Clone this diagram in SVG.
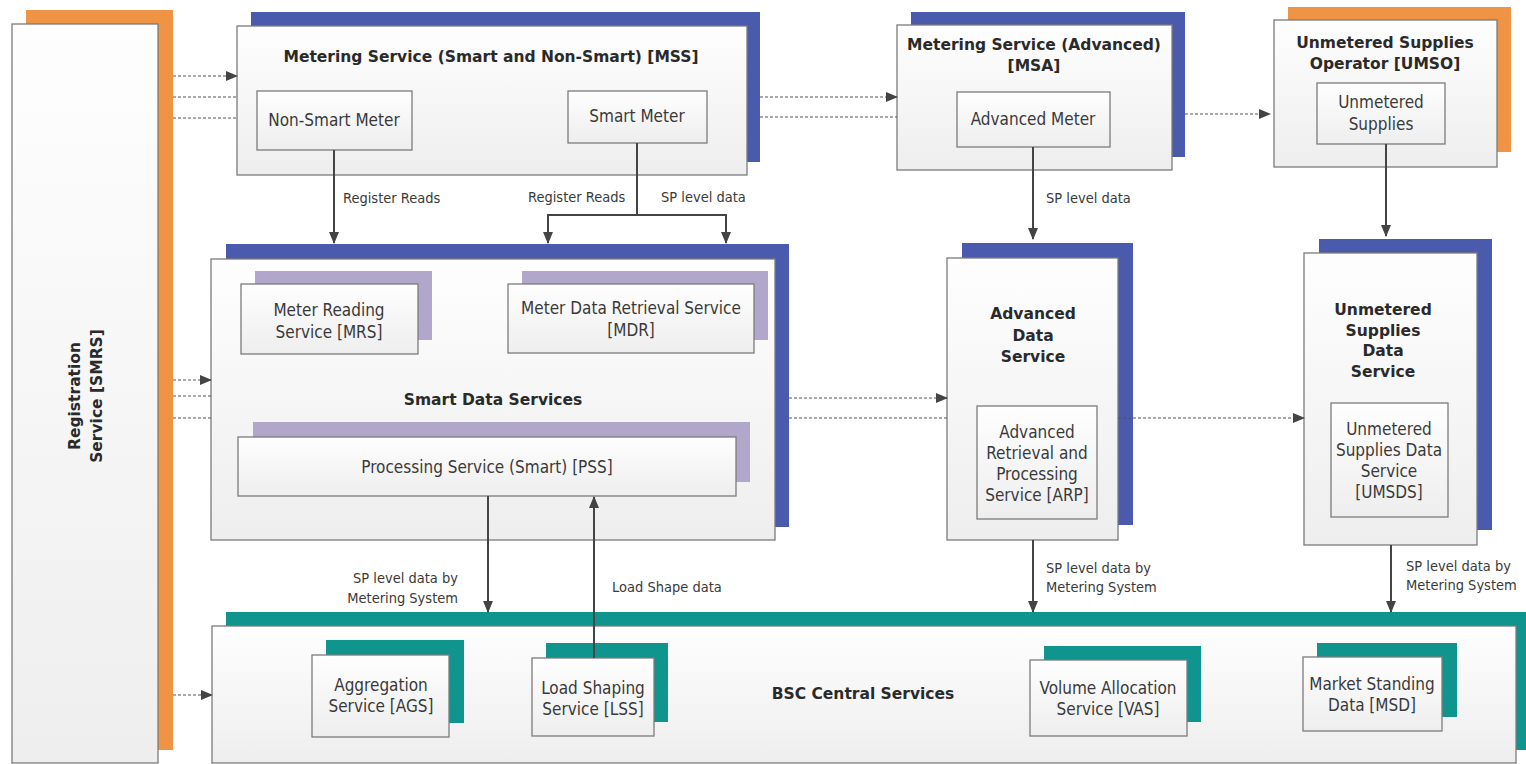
<svg xmlns="http://www.w3.org/2000/svg" width="1526" height="764" viewBox="0 0 1526 764">
<style>
.box{fill:url(#g);stroke:#7b7b7b;stroke-width:1.3}
.or{fill:#EF9345}
.bl{fill:#4A5BAE}
.lv{fill:#B1A7CB}
.tl{fill:#10958E}
.t{font-family:"DejaVu Sans Condensed","DejaVu Sans",sans-serif;font-size:17px;fill:#3a3a3a;text-anchor:middle}
.h{font-family:"DejaVu Sans","Liberation Sans",sans-serif;font-weight:bold;font-size:15.5px;fill:#2a2a2a;text-anchor:middle}
.l{font-family:"DejaVu Sans Condensed","DejaVu Sans",sans-serif;font-size:14.5px;fill:#3a3a3a}
.s{fill:none;stroke:#444;stroke-width:2}
.d{fill:none;stroke:#555;stroke-width:1.2;stroke-dasharray:3 2}
</style>
<defs>
<linearGradient id="g" x1="0" y1="0" x2="0" y2="1">
<stop offset="0" stop-color="#fefefe"/>
<stop offset="1" stop-color="#eeeeee"/>
</linearGradient>
<marker id="a" markerWidth="12" markerHeight="12" refX="11" refY="6" orient="auto" markerUnits="userSpaceOnUse">
<path d="M0,1 L12,6 L0,11 Z" fill="#444"/>
</marker>
</defs>
<rect width="1526" height="764" fill="#ffffff"/>

<g id="registration">
<rect class="or" x="26" y="10" width="147" height="740"/>
<rect class="box" x="12" y="24" width="146" height="739"/>
<text class="h" transform="translate(80,396) rotate(-90)">Registration</text>
<text class="h" transform="translate(102,396) rotate(-90)">Service [SMRS]</text>
</g>

<g id="mss">
<rect class="bl" x="251" y="12" width="509" height="150"/>
<rect class="box" x="237" y="26" width="510" height="149"/>
<text class="h" x="491" y="62">Metering Service (Smart and Non-Smart) [MSS]</text>
</g>
<g id="non-smart-meter">
<rect class="box" x="257" y="91" width="155" height="59"/>
<text class="t" x="334" y="126">Non-Smart Meter</text>
</g>
<g id="smart-meter">
<rect class="box" x="568" y="91" width="139" height="52"/>
<text class="t" x="637" y="122">Smart Meter</text>
</g>

<g id="msa">
<rect class="bl" x="911" y="12" width="274" height="145"/>
<rect class="box" x="897" y="25" width="275" height="145"/>
<text class="h" x="1034" y="50">Metering Service (Advanced)</text>
<text class="h" x="1034" y="71">[MSA]</text>
</g>
<g id="advanced-meter">
<rect class="box" x="957" y="92" width="153" height="55"/>
<text class="t" x="1033" y="125">Advanced Meter</text>
</g>

<g id="umso">
<rect class="or" x="1288" y="7" width="223" height="145"/>
<rect class="box" x="1274" y="20" width="223" height="147"/>
<text class="h" x="1385" y="48">Unmetered Supplies</text>
<text class="h" x="1385" y="69">Operator [UMSO]</text>
</g>
<g id="unmetered-supplies">
<rect class="box" x="1317" y="83" width="128" height="61"/>
<text class="t" x="1381" y="108">Unmetered</text>
<text class="t" x="1381" y="130">Supplies</text>
</g>

<g id="smart-data-services">
<rect class="bl" x="226" y="244" width="563" height="283"/>
<rect class="box" x="211" y="259" width="564" height="281"/>
<text class="h" x="493" y="405">Smart Data Services</text>
</g>
<g id="mrs">
<rect class="lv" x="255" y="271" width="177" height="69"/>
<rect class="box" x="241" y="284" width="177" height="70"/>
<text class="t" x="329" y="316">Meter Reading</text>
<text class="t" x="329" y="338">Service [MRS]</text>
</g>
<g id="mdr">
<rect class="lv" x="522" y="271" width="246" height="69"/>
<rect class="box" x="508" y="284" width="246" height="69"/>
<text class="t" x="631" y="314">Meter Data Retrieval Service</text>
<text class="t" x="631" y="336">[MDR]</text>
</g>
<g id="pss">
<rect class="lv" x="253" y="422" width="497" height="60"/>
<rect class="box" x="238" y="437" width="498" height="59"/>
<text class="t" x="487" y="473">Processing Service (Smart) [PSS]</text>
</g>

<g id="advanced-data-service">
<rect class="bl" x="962" y="243" width="171" height="282"/>
<rect class="box" x="947" y="258" width="171" height="282"/>
<text class="h" x="1033" y="319">Advanced</text>
<text class="h" x="1033" y="341">Data</text>
<text class="h" x="1033" y="362">Service</text>
</g>
<g id="arp">
<rect class="box" x="977" y="406" width="120" height="113"/>
<text class="t" x="1037" y="438">Advanced</text>
<text class="t" x="1037" y="459">Retrieval and</text>
<text class="t" x="1037" y="480">Processing</text>
<text class="t" x="1037" y="501">Service [ARP]</text>
</g>

<g id="unmetered-supplies-data-service">
<rect class="bl" x="1319" y="239" width="173" height="291"/>
<rect class="box" x="1304" y="253" width="173" height="292"/>
<text class="h" x="1383" y="315">Unmetered</text>
<text class="h" x="1383" y="336">Supplies</text>
<text class="h" x="1383" y="356">Data</text>
<text class="h" x="1383" y="377">Service</text>
</g>
<g id="umsds">
<rect class="box" x="1331" y="403" width="117" height="114"/>
<text class="t" x="1389" y="435">Unmetered</text>
<text class="t" x="1389" y="456">Supplies Data</text>
<text class="t" x="1389" y="477">Service</text>
<text class="t" x="1389" y="498">[UMSDS]</text>
</g>

<g id="bsc-central-services">
<rect class="tl" x="226" y="612" width="1300" height="138"/>
<rect class="box" x="212" y="626" width="1304" height="137"/>
<text class="h" x="863" y="699">BSC Central Services</text>
</g>
<g id="ags">
<rect class="tl" x="326" y="640" width="138" height="83"/>
<rect class="box" x="312" y="655" width="137" height="82"/>
<text class="t" x="381" y="691">Aggregation</text>
<text class="t" x="381" y="712">Service [AGS]</text>
</g>
<g id="lss">
<rect class="tl" x="546" y="643" width="122" height="79"/>
<rect class="box" x="532" y="658" width="122" height="78"/>
<text class="t" x="593" y="694">Load Shaping</text>
<text class="t" x="593" y="715">Service [LSS]</text>
</g>
<g id="vas">
<rect class="tl" x="1044" y="646" width="157" height="76"/>
<rect class="box" x="1030" y="660" width="157" height="76"/>
<text class="t" x="1108" y="694">Volume Allocation</text>
<text class="t" x="1108" y="715">Service [VAS]</text>
</g>
<g id="msd">
<rect class="tl" x="1317" y="643" width="140" height="74"/>
<rect class="box" x="1303" y="657" width="139" height="74"/>
<text class="t" x="1372" y="690">Market Standing</text>
<text class="t" x="1372" y="711">Data [MSD]</text>
</g>

<g id="connectors">
<path class="s" d="M334 150 V243" marker-end="url(#a)"/>
<path class="s" d="M637 143 V215"/>
<path class="s" d="M637 215 H548 V243" marker-end="url(#a)"/>
<path class="s" d="M637 215 H726 V243" marker-end="url(#a)"/>
<path class="s" d="M1033 147 V239" marker-end="url(#a)"/>
<path class="s" d="M1386 144 V236" marker-end="url(#a)"/>
<path class="s" d="M488 496 V612" marker-end="url(#a)"/>
<path class="s" d="M594 658 V497" marker-end="url(#a)"/>
<path class="s" d="M1033 540 V612" marker-end="url(#a)"/>
<path class="s" d="M1391 545 V612" marker-end="url(#a)"/>

<path class="d" d="M173 76 H237" marker-end="url(#a)"/>
<path class="d" d="M173 97 H237"/>
<path class="d" d="M173 118 H237"/>
<path class="d" d="M760 97 H897" marker-end="url(#a)"/>
<path class="d" d="M760 117 H897"/>
<path class="d" d="M1185 114 H1270" marker-end="url(#a)"/>
<path class="d" d="M173 380 H211" marker-end="url(#a)"/>
<path class="d" d="M173 396 H211"/>
<path class="d" d="M173 418 H211"/>
<path class="d" d="M789 398 H947" marker-end="url(#a)"/>
<path class="d" d="M789 418 H947"/>
<path class="d" d="M1118 418 H1304" marker-end="url(#a)"/>
<path class="d" d="M173 695 H212" marker-end="url(#a)"/>

<text class="l" x="343" y="203">Register Reads</text>
<text class="l" x="528" y="202">Register Reads</text>
<text class="l" x="661" y="202">SP level data</text>
<text class="l" x="1046" y="203">SP level data</text>
<text class="l" x="458" y="583" text-anchor="end">SP level data by</text>
<text class="l" x="458" y="603" text-anchor="end">Metering System</text>
<text class="l" x="612" y="592">Load Shape data</text>
<text class="l" x="1046" y="573">SP level data by</text>
<text class="l" x="1046" y="592">Metering System</text>
<text class="l" x="1406" y="571">SP level data by</text>
<text class="l" x="1406" y="590">Metering System</text>
</g>
</svg>
